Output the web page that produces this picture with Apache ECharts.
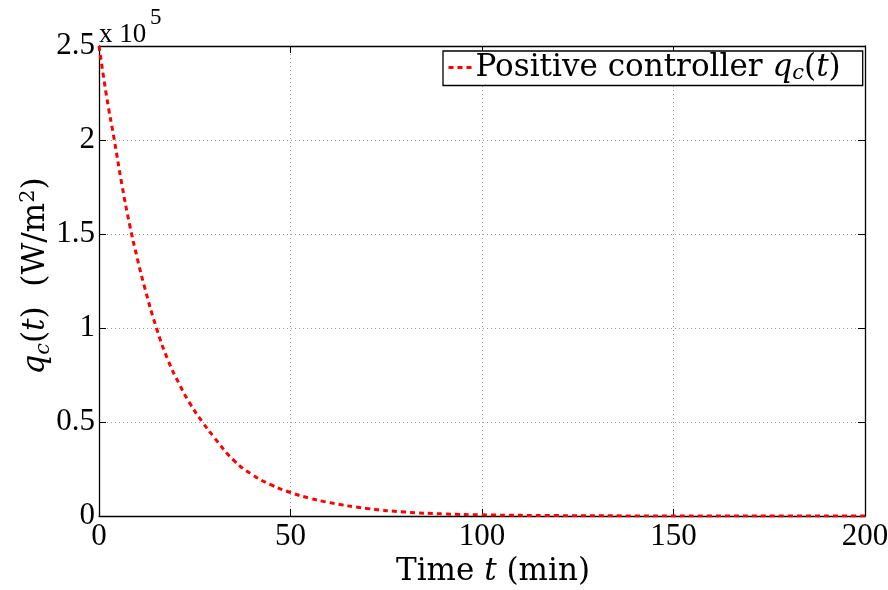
<!DOCTYPE html>
<html>
<head>
<meta charset="utf-8">
<script src="https://cdn.jsdelivr.net/npm/echarts@6/dist/echarts.min.js"></script>
<style>html,body{margin:0;padding:0;background:#fff;}#c{width:888px;height:590px;}</style>
</head>
<body>
<div id="c"></div>
<script>
const timeMin = [0,2,4,6,8,10,12,15,18,21,24,27,30,35,40,45,50,55,60,70,80,90,100,120,140,160,180,200];
const qcValues = [250000,223000,200000,176000,155000,137000,121000,100000,83000,70000,59000,50000,42000,30000,22000,16500,12500,9500,7200,4000,2100,1100,600,200,50,10,0,0];
const xTicks = [0,50,100,150,200];
const yTicks = [0,50000,100000,150000,200000,250000];
const seriesName = 'Positive controller';

const FONT = 'Liberation Serif';
const TFONT = 'DejaVu Serif';
const chart = echarts.init(document.getElementById('c'), null, {renderer:'canvas'});
const data = timeMin.map((t,i)=>[t,qcValues[i]]);
const gridLine = {show:true, lineStyle:{color:'#9a9a9a', type:[1,3], width:1}};
const richSet = (lh)=>({
  i:{fontStyle:'italic', fontFamily:TFONT, fontSize:31, color:'#000', lineHeight:lh},
  n:{fontFamily:TFONT, fontSize:31, color:'#000', lineHeight:lh},
  s:{fontStyle:'italic', fontFamily:TFONT, fontSize:21, color:'#000', lineHeight:lh, verticalAlign:'bottom'},
  p:{fontFamily:TFONT, fontSize:21, color:'#000', lineHeight:lh, verticalAlign:'top'}
});
chart.setOption({
  animation:false,
  backgroundColor:'#fff',
  grid:{left:99, right:23, top:46, bottom:74, containLabel:false, outerBoundsMode:'none'},
  xAxis:[{
    type:'value', min:0, max:200, interval:50,
    axisLine:{show:true, onZero:false, lineStyle:{color:'#000', width:1.3}},
    axisTick:{show:true, inside:true, length:7, lineStyle:{color:'#000'}},
    axisLabel:{color:'#000', fontFamily:FONT, fontSize:31, margin:5, showMaxLabel:true, showMinLabel:true, hideOverlap:false},
    splitLine:gridLine,
    name:'{n|Time }{i|t}{n| (min)}', nameLocation:'middle', nameGap:35,
    nameTextStyle:{color:'#000', fontFamily:TFONT, fontSize:31, padding:[0,0,0,22], rich:richSet(34)}
  },{
    type:'value', position:'top', min:0, max:200, interval:50,
    axisLine:{show:true, onZero:false, lineStyle:{color:'#000', width:1.3}},
    axisTick:{show:true, inside:true, length:7, lineStyle:{color:'#000'}},
    axisLabel:{show:false}, splitLine:{show:false}
  }],
  yAxis:[{
    type:'value', min:0, max:250000, interval:50000,
    axisLine:{show:true, onZero:false, lineStyle:{color:'#000', width:1.3}},
    axisTick:{show:true, inside:true, length:7, lineStyle:{color:'#000'}},
    axisLabel:{color:'#000', fontFamily:FONT, fontSize:31, margin:4, formatter:v=>v===0?'0':String(v/1e5)},
    splitLine:gridLine,
    name:'{i|q}{s|c}{n|(}{i|t}{n|)  (W/m}{p|2}{n|)}', nameLocation:'middle', nameGap:45, nameRotate:90,
    nameMoveOverlap:false,
    nameTextStyle:{color:'#000', fontFamily:TFONT, fontSize:31, padding:[0,0,0,10], rich:richSet(36)}
  },{
    type:'value', position:'right', min:0, max:250000, interval:50000,
    axisLine:{show:true, onZero:false, lineStyle:{color:'#000', width:1.3}},
    axisTick:{show:true, inside:true, length:7, lineStyle:{color:'#000'}},
    axisLabel:{show:false}, splitLine:{show:false}
  }],
  legend:{
    show:true, data:[seriesName], left:443, top:51,
    backgroundColor:'#fff', borderColor:'#000', borderWidth:1.3, borderRadius:0,
    padding:[1,22,1,4], itemWidth:26, itemHeight:14, itemGap:2,
    itemStyle:{opacity:0},
    lineStyle:{color:'#ff0000', width:3, type:[5,4]},
    formatter:()=> '{n|Positive controller }{i|q}{s|c}{n|(}{i|t}{n|)}',
    textStyle:{color:'#000', fontFamily:TFONT, fontSize:31, padding:[0,0,0,-4], rich:richSet(34)}
  },
  graphic:[
    {type:'text', left:99, top:21, style:{text:'x 10', font:'27px "Liberation Serif"', fill:'#000'}},
    {type:'text', left:150, top:6, style:{text:'5', font:'23px "Liberation Serif"', fill:'#000'}}
  ],
  series:[{
    name:seriesName, type:'line', data:data, smooth:true, showSymbol:false, symbol:'none',
    xAxisIndex:0, yAxisIndex:0, clip:true,
    lineStyle:{color:'#ff0000', width:3, type:[5,4]},
    itemStyle:{color:'#ff0000'}
  }]
});
</script>
</body>
</html>
